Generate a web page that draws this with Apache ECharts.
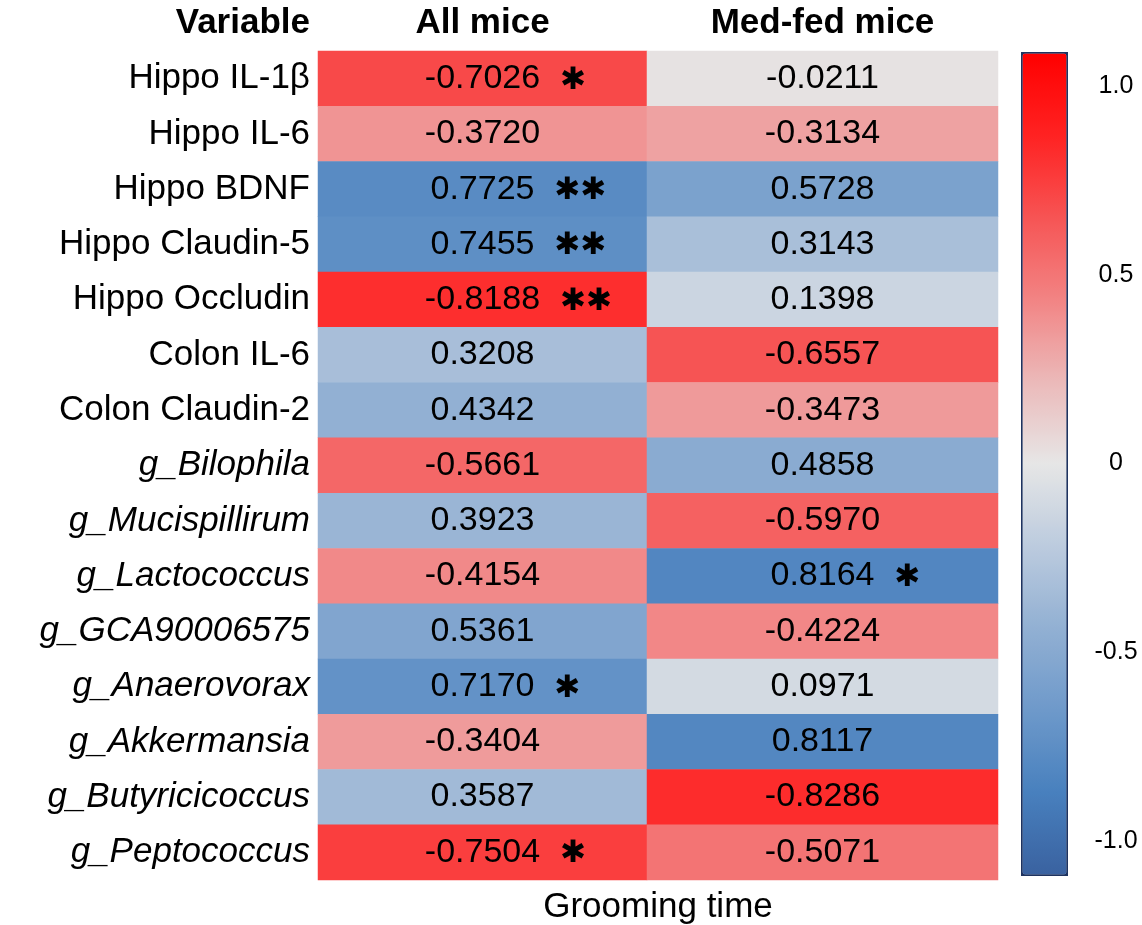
<!DOCTYPE html>
<html>
<head>
<meta charset="utf-8">
<script src="https://cdn.jsdelivr.net/npm/echarts@6/dist/echarts.min.js"></script>
<style>html,body{margin:0;padding:0;background:#fff;}#c{width:1142px;height:925px;}</style>
</head>
<body>
<div id="c"></div>
<script>
const variables = ['Hippo IL-1β','Hippo IL-6','Hippo BDNF','Hippo Claudin-5','Hippo Occludin','Colon IL-6','Colon Claudin-2','g_Bilophila','g_Mucispillirum','g_Lactococcus','g_GCA90006575','g_Anaerovorax','g_Akkermansia','g_Butyricicoccus','g_Peptococcus'];
const groups = ['All mice','Med-fed mice'];
const allMice = [-0.7026,-0.3720,0.7725,0.7455,-0.8188,0.3208,0.4342,-0.5661,0.3923,-0.4154,0.5361,0.7170,-0.3404,0.3587,-0.7504];
const allMiceSig = ['*','','**','**','**','','','','','','','*','','','*'];
const medFed = [-0.0211,-0.3134,0.5728,0.3143,0.1398,-0.6557,-0.3473,0.4858,-0.5970,0.8164,-0.4224,0.0971,0.8117,-0.8286,-0.5071];
const medFedSig = ['','','','','','','','','','*','','','','',''];
const colorbarTicks = [1.0,0.5,0,-0.5,-1.0];
const xTitle = 'Grooming time';
const yTitle = 'Variable';

const FONT = 'Liberation Sans';
const chart = echarts.init(document.getElementById('c'));

function makeSeries(values, sig, idx){
  return {
    type:'heatmap', xAxisIndex:idx, yAxisIndex:idx,
    data: values.map((r,i)=>[0,i,-r]),
    itemStyle:{borderWidth:0},
    emphasis:{disabled:true},
    label:{
      show:true,
      formatter:function(p){
        const i=p.dataIndex, num=values[i].toFixed(4), s=sig[i];
        if(!s) return '{n|'+num+'}';
        const st = s.replace(/\*/g,'✱');
        return '{p|'+st+'}{n|'+num+'}{s|'+st+'}';
      },
      rich:{
        n:{fontFamily:FONT,fontSize:34,color:'#000'},
        s:{fontFamily:'DejaVu Sans',fontSize:31,color:'#000',padding:[4,0,0,20]},
        p:{fontFamily:'DejaVu Sans',fontSize:31,color:'rgba(0,0,0,0)',padding:[4,20,0,0]}
      }
    }
  };
}

const option = {
  backgroundColor:'#fff',
  animation:false,
  grid:[
    {left:318, top:51, width:329, bottom:45, outerBoundsMode:'none'},
    {left:647, top:51, width:351, bottom:45, outerBoundsMode:'none'},
    {left:318, top:51, width:680, bottom:45, outerBoundsMode:'none'},
    {left:1021, top:52, width:46, height:823, outerBoundsMode:'none'}
  ],
  xAxis:[
    {gridIndex:0,type:'category',data:[groups[0]],position:'top',axisLine:{show:false},axisTick:{show:false},
     axisLabel:{fontFamily:FONT,fontSize:35,fontWeight:'bold',color:'#000',margin:10}},
    {gridIndex:1,type:'category',data:[groups[1]],position:'top',axisLine:{show:false},axisTick:{show:false},
     axisLabel:{fontFamily:FONT,fontSize:35,fontWeight:'bold',color:'#000',margin:10}},
    {gridIndex:2,type:'value',axisLine:{show:false},axisTick:{show:false},axisLabel:{show:false},splitLine:{show:false},
     name:xTitle,nameLocation:'middle',nameGap:27,nameTextStyle:{fontFamily:FONT,fontSize:35,color:'#000',verticalAlign:'middle'}},
    {gridIndex:3,type:'value',show:false}
  ],
  yAxis:[
    {gridIndex:0,type:'category',data:variables,inverse:true,axisLine:{show:false},axisTick:{show:false},
     axisLabel:{margin:8,fontFamily:FONT,fontSize:35,color:'#000',
       formatter:function(v){return v.indexOf('g_')===0?'{i|'+v+'}':'{r|'+v+'}';},
       rich:{i:{fontFamily:FONT,fontSize:35,fontStyle:'italic',color:'#000'},r:{fontFamily:FONT,fontSize:35,color:'#000'}}},
     name:yTitle,nameLocation:'start',nameGap:28,
     nameTextStyle:{fontFamily:FONT,fontSize:35,fontWeight:'bold',color:'#000',align:'right',verticalAlign:'middle',padding:[0,8,0,0]}},
    {gridIndex:1,type:'category',data:variables,inverse:true,show:false},
    {gridIndex:2,type:'value',show:false},
    {gridIndex:3,type:'value',min:-1.09,max:1.09,position:'right',axisLine:{show:false},axisTick:{show:false},splitLine:{show:false},
     axisLabel:{customValues:colorbarTicks,fontFamily:FONT,fontSize:25,color:'#000',align:'center',margin:49,
       formatter:function(v){return v===0?'0':v.toFixed(1);}}}
  ],
  visualMap:{
    type:'continuous', seriesIndex:[0,1], dimension:2,
    min:-1.09, max:1.09, calculable:false, orient:'vertical',
    left:1021, top:52, itemWidth:44, itemHeight:821, padding:0,
    borderColor:'#1e3360', borderWidth:3,
    text:null,
    inRange:{color:['#3a62a0','#4880be','#6e99ca','#92b0d3','#bccbde','#e6e6e6','#ebb9b9','#f28484','#f65454','#ff2222','#ff0000']}
  },
  series:[ makeSeries(allMice, allMiceSig, 0), makeSeries(medFed, medFedSig, 1) ]
};
chart.setOption(option);
</script>
</body>
</html>
